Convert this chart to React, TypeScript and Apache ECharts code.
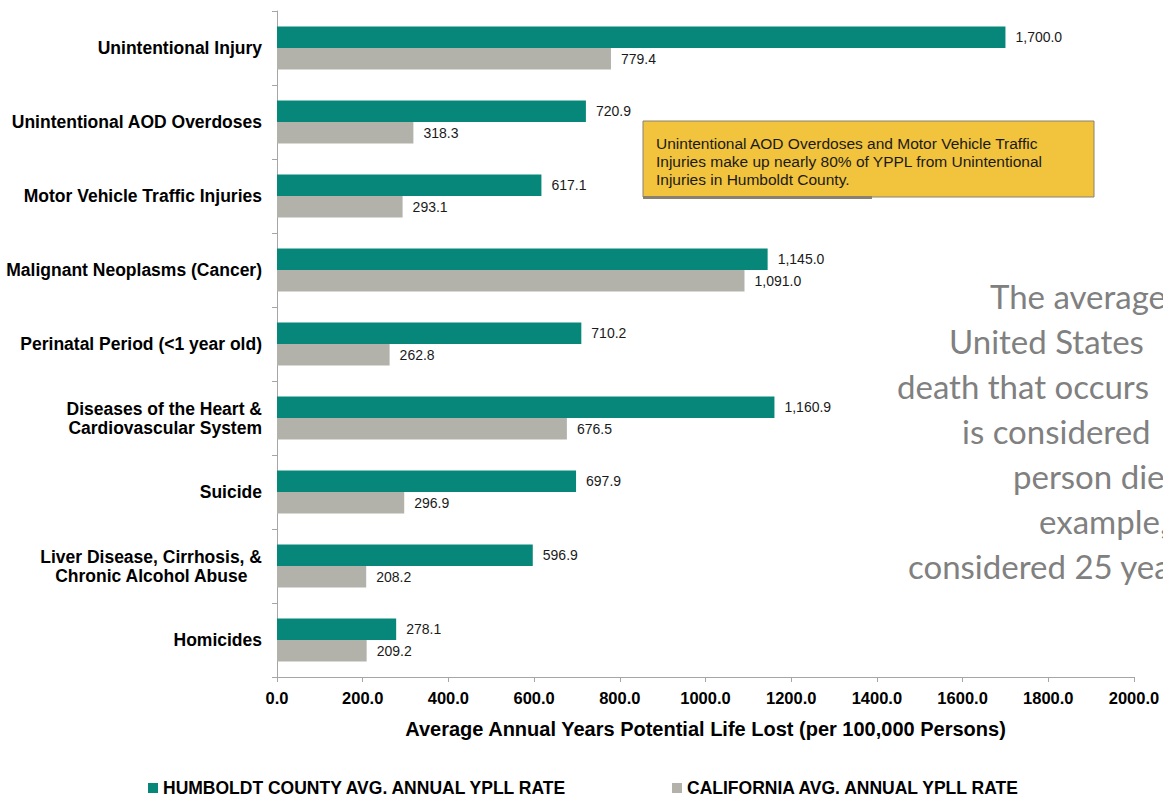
import React, { useEffect, useRef } from "react";
import * as echarts from "echarts";

const categories = [
  "Unintentional Injury",
  "Unintentional AOD Overdoses",
  "Motor Vehicle Traffic Injuries",
  "Malignant Neoplasms (Cancer)",
  "Perinatal Period (<1 year old)",
  "Diseases of the Heart &\nCardiovascular System",
  "Suicide",
  "Liver Disease, Cirrhosis, &\nChronic Alcohol Abuse\u00a0\u00a0\u00a0",
  "Homicides",
];
const humboldt = [1700.0, 720.9, 617.1, 1145.0, 710.2, 1160.9, 697.9, 596.9, 278.1];
const california = [779.4, 318.3, 293.1, 1091.0, 262.8, 676.5, 296.9, 208.2, 209.2];
const seriesNames = ["HUMBOLDT COUNTY AVG. ANNUAL YPLL RATE", "CALIFORNIA AVG. ANNUAL YPLL RATE"];
const xTicks = { min: 0, max: 2000, interval: 200 };
const axisTitle = "Average Annual Years Potential Life Lost (per 100,000 Persons)";
const noteLines = [
  "Unintentional AOD Overdoses and Motor Vehicle Traffic",
  "Injuries make up nearly 80% of YPPL from Unintentional",
  "Injuries in Humboldt County.",
];
const sideLines = [
  "The average",
  "United States",
  "death that occurs",
  "is considered",
  "person dies",
  "example,",
  "considered 25 years",
];
const sideX = [990, 949, 897, 962, 1013, 1039, 908];

const FONT = "'Liberation Sans', Arial, sans-serif";
const TEAL = "#07877a";
const GRAY = "#b2b2ab";

const fmt = (v: number) =>
  v.toLocaleString("en-US", { minimumFractionDigits: 1, maximumFractionDigits: 1 });

export default function App() {
  const ref = useRef<HTMLDivElement>(null);
  useEffect(() => {
    if (!ref.current) return;
    const chart = echarts.init(ref.current, undefined, { renderer: "svg" });
    const graphics: any[] = [
      {
        type: "rect",
        shape: { x: 643, y: 121, width: 451, height: 76 },
        style: { fill: "#f2c33c", stroke: "#8a8070", lineWidth: 1 },
        z: 10,
      },
      {
        type: "rect",
        shape: { x: 643, y: 196, width: 229, height: 3 },
        style: { fill: "#8a8070" },
        z: 10,
      },
      ...noteLines.map((t, i) => ({
        type: "text",
        x: 656,
        y: 143 + i * 18,
        style: {
          text: t,
          font: `15.5px ${FONT}`,
          fill: "#1a1a1a",
          verticalAlign: "middle",
          textAlign: "left",
        },
        z: 11,
      })),
      ...sideLines.map((t, i) => ({
        type: "text",
        x: sideX[i],
        y: 296 + i * 45,
        style: {
          text: t,
          font: `33px Lato, 'Open Sans', sans-serif`,
          fill: "#808080",
          verticalAlign: "middle",
          textAlign: "left",
        },
        z: 5,
      })),
    ];
    const legendText = { fontFamily: FONT, fontWeight: "bold", fontSize: 17.5, color: "#000" };
    chart.setOption({
      animation: false,
      backgroundColor: "#ffffff",
      grid: { left: 277, right: 29, top: 11, bottom: 123, containLabel: false },
      legend: [
        {
          data: [seriesNames[0]],
          left: 148,
          top: 779,
          padding: 0,
          icon: "rect",
          itemWidth: 10,
          itemHeight: 10,
          textStyle: legendText,
        },
        {
          data: [seriesNames[1]],
          left: 672,
          top: 779,
          padding: 0,
          icon: "rect",
          itemWidth: 10,
          itemHeight: 10,
          textStyle: legendText,
        },
      ],
      xAxis: {
        type: "value",
        min: xTicks.min,
        max: xTicks.max,
        interval: xTicks.interval,
        name: axisTitle,
        nameLocation: "middle",
        nameGap: 42,
        nameTextStyle: { fontFamily: FONT, fontWeight: "bold", fontSize: 20, color: "#000" },
        axisLine: { show: true, lineStyle: { color: "#a6a6a6", width: 1 } },
        axisTick: { show: true, length: 5, lineStyle: { color: "#a6a6a6" } },
        splitLine: { show: false },
        axisLabel: {
          formatter: (v: number) => v.toFixed(1),
          fontFamily: FONT,
          fontWeight: "bold",
          fontSize: 16.5,
          color: "#000",
          margin: 12,
        },
      },
      yAxis: {
        type: "category",
        data: categories,
        inverse: true,
        axisLine: { show: true, lineStyle: { color: "#a6a6a6", width: 1 } },
        axisTick: { show: true, length: 5, lineStyle: { color: "#a6a6a6" } },
        axisLabel: {
          fontFamily: FONT,
          fontWeight: "bold",
          fontSize: 17.5,
          lineHeight: 19,
          color: "#000",
          margin: 15,
          align: "right",
        },
      },
      series: [
        {
          name: seriesNames[0],
          type: "bar",
          data: humboldt,
          barGap: "0%",
          barCategoryGap: "42%",
          itemStyle: { color: TEAL },
          label: {
            show: true,
            position: "right",
            distance: 10,
            formatter: (p: any) => fmt(p.value),
            fontFamily: FONT,
            fontSize: 14,
            color: "#1a1a1a",
          },
        },
        {
          name: seriesNames[1],
          type: "bar",
          data: california,
          barGap: "0%",
          barCategoryGap: "42%",
          itemStyle: { color: GRAY },
          label: {
            show: true,
            position: "right",
            distance: 10,
            formatter: (p: any) => fmt(p.value),
            fontFamily: FONT,
            fontSize: 14,
            color: "#1a1a1a",
          },
        },
      ],
      graphic: graphics,
    });
    return () => chart.dispose();
  }, []);
  return (
    <div
      ref={ref}
      style={{ position: "absolute", left: 0, top: 0, width: 1163, height: 800 }}
    />
  );
}
